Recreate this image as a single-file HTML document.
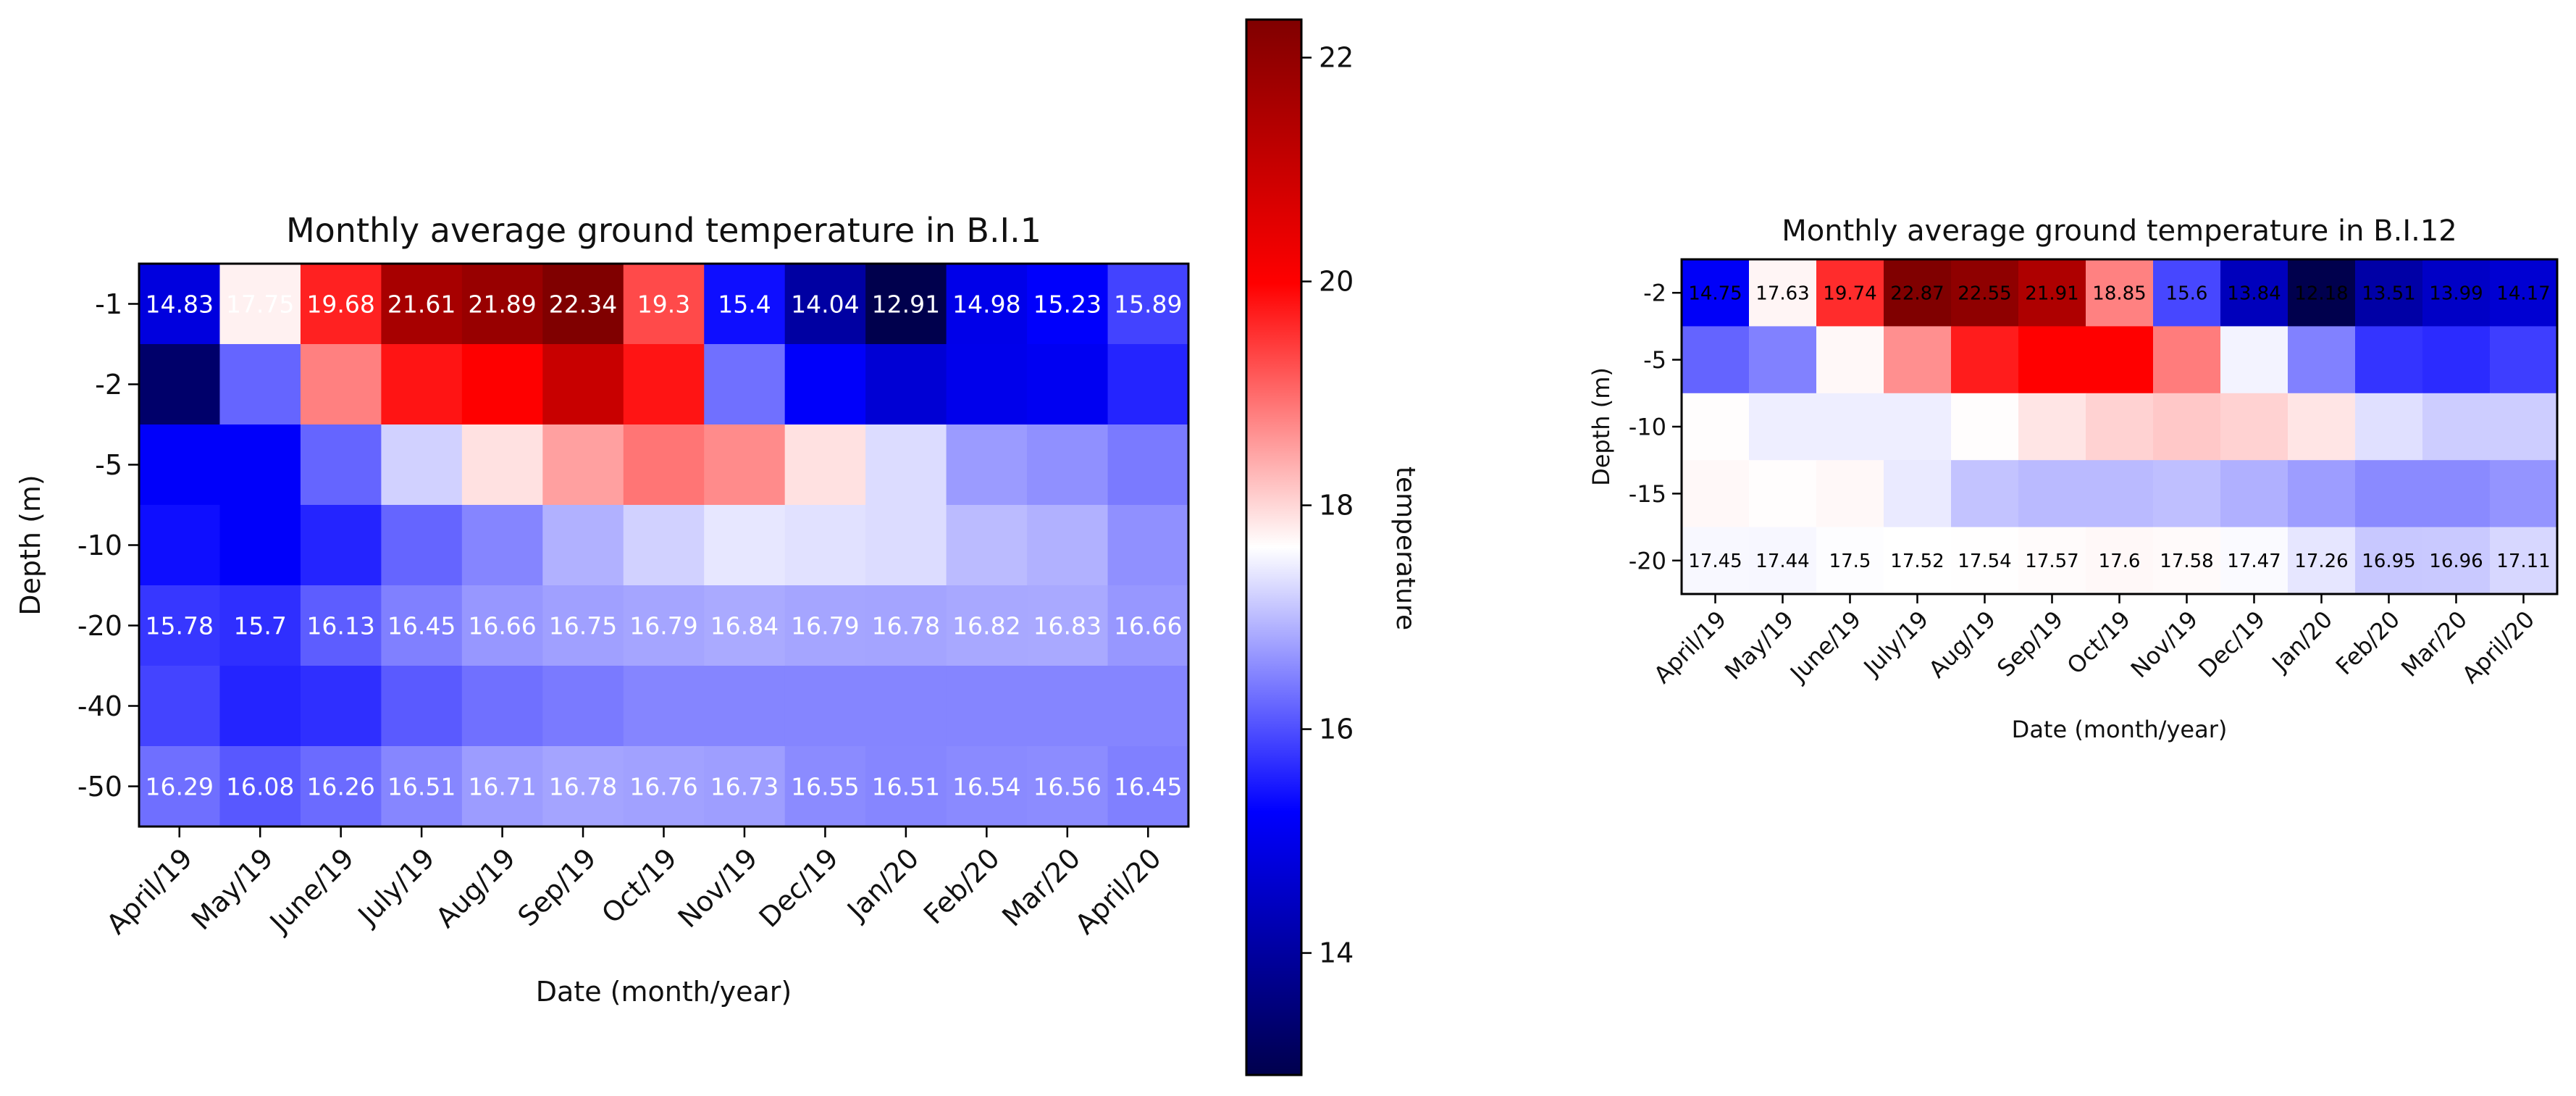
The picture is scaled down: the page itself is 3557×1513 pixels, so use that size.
<!DOCTYPE html>
<html><head><meta charset="utf-8">
<style>
html,body{margin:0;padding:0;background:#fff;}
svg{display:block;font-family:"DejaVu Sans","Liberation Sans",sans-serif;}
</style></head>
<body>
<svg id="fig" width="3557" height="1513" viewBox="0 0 3557 1513" xmlns="http://www.w3.org/2000/svg">
<defs>
<linearGradient id="seis" x1="0" y1="1" x2="0" y2="0">
<stop offset="0" stop-color="rgb(0,0,77)"/>
<stop offset="0.25" stop-color="rgb(0,0,255)"/>
<stop offset="0.5" stop-color="rgb(255,255,255)"/>
<stop offset="0.75" stop-color="rgb(255,0,0)"/>
<stop offset="1" stop-color="rgb(128,0,0)"/>
</linearGradient>
</defs>
<g id="left"></g>
<g id="right"></g>
<g id="cbar"></g>
</svg>
<script>
const months = ["April/19","May/19","June/19","July/19","Aug/19","Sep/19","Oct/19","Nov/19","Dec/19","Jan/20","Feb/20","Mar/20","April/20"];
const depthsA = ["-1","-2","-5","-10","-20","-40","-50"];
const rowA1 = [14.83,17.75,19.68,21.61,21.89,22.34,19.3,15.4,14.04,12.91,14.98,15.23,15.89];
const rowA2 = [13.3,16.2,18.8,19.8,20.0,21.0,19.8,16.3,15.2,14.7,15.0,15.1,15.6];
const rowA5 = [15.2,15.2,16.2,17.2,17.9,18.5,18.9,18.7,17.9,17.3,16.7,16.6,16.4];
const rowA10 = [15.4,15.2,15.6,16.2,16.5,16.9,17.2,17.4,17.35,17.3,17.0,16.9,16.6];
const rowA20 = [15.78,15.7,16.13,16.45,16.66,16.75,16.79,16.84,16.79,16.78,16.82,16.83,16.66];
const rowA40 = [15.9,15.6,15.7,16.1,16.3,16.4,16.5,16.5,16.5,16.5,16.5,16.5,16.5];
const rowA50 = [16.29,16.08,16.26,16.51,16.71,16.78,16.76,16.73,16.55,16.51,16.54,16.56,16.45];
const labeledA = [true,false,false,false,true,false,true];
const depthsB = ["-2","-5","-10","-15","-20"];
const rowB2 = [14.75,17.63,19.74,22.87,22.55,21.91,18.85,15.6,13.84,12.18,13.51,13.99,14.17];
const rowB5 = [15.9,16.2,17.6,18.7,19.9,20.2,20.2,18.9,17.4,16.2,15.4,15.3,15.5];
const rowB10 = [17.55,17.35,17.35,17.35,17.55,17.8,18.0,18.1,18.0,17.8,17.2,17.0,17.0];
const rowB15 = [17.6,17.55,17.6,17.3,16.9,16.8,16.8,16.85,16.7,16.5,16.3,16.3,16.4];
const rowB20 = [17.45,17.44,17.5,17.52,17.54,17.57,17.6,17.58,17.47,17.26,16.95,16.96,17.11];
const labeledB = [true,false,false,false,true];
const cbarTicks = [14,16,18,20,22];

const NS="http://www.w3.org/2000/svg";
function mk(tag,attrs,parent,text){const e=document.createElementNS(NS,tag);for(const k in attrs)e.setAttribute(k,attrs[k]);if(text!==undefined)e.textContent=text;parent.appendChild(e);return e;}
function seismic(t){t=Math.max(0,Math.min(1,t));let r,g,b;
 if(t<0.25){const u=t/0.25;r=0;g=0;b=77+178*u;}
 else if(t<0.5){const u=(t-0.25)/0.25;r=255*u;g=255*u;b=255;}
 else if(t<0.75){const u=(t-0.5)/0.25;r=255;g=255*(1-u);b=255*(1-u);}
 else {const u=(t-0.75)/0.25;r=255-127*u;g=0;b=0;}
 return `rgb(${Math.round(r)},${Math.round(g)},${Math.round(b)})`;}

function heatmap(g,cfg){
 const {rows,ylab,labeled,x0,x1,y0,y1,vmin,vmax,title,fs,vfs,vcol,titleY,tfs,xlabY,ylabX,tickOff,tickLen} = cfg;
 const nc=months.length,nr=rows.length,cw=(x1-x0)/nc,ch=(y1-y0)/nr;
 const xs=i=>x0+i*cw, ys=j=>y0+j*ch;
 const t=mk('text',{x:(x0+x1)/2,y:titleY,'text-anchor':'middle','font-size':tfs,fill:'#111'},g,title);
 
 
 rows.forEach((row,j)=>row.forEach((v,i)=>{
  const r=mk('rect',{x:xs(i),y:ys(j),width:cw+0.6,height:ch+0.6,fill:seismic((v-vmin)/(vmax-vmin))},g);
  
  
  if(labeled[j]){
   const tx=mk('text',{x:xs(i)+cw/2,y:ys(j)+ch/2+vfs*0.36,'text-anchor':'middle','font-size':vfs,fill:vcol},g,String(v));
   
   
  }
 }));
 const fr=mk('rect',{x:x0,y:y0,width:x1-x0,height:y1-y0,fill:'none',stroke:'#000','stroke-width':3},g);
 
 
 ylab.forEach((l,j)=>{const y=ys(j)+ch/2;
  mk('line',{x1:x0-tickLen,y1:y,x2:x0,y2:y,stroke:'#000','stroke-width':2.5},g);
  const tx=mk('text',{x:x0-tickLen-8,y:y+fs*0.36,'text-anchor':'end','font-size':fs,fill:'#111'},g,l);
  
  });
 months.forEach((m,i)=>{const x=xs(i)+cw/2;
  mk('line',{x1:x,y1:y1,x2:x,y2:y1+tickLen,stroke:'#000','stroke-width':2.5},g);
  const ty=y1+tickOff;
  const tx=mk('text',{x:x,y:ty+fs*0.75,'text-anchor':'end','font-size':fs,fill:'#111',transform:`rotate(-45 ${x} ${ty})`},g,m);
  
  });
 const xl=mk('text',{x:(x0+x1)/2,y:xlabY,'text-anchor':'middle','font-size':fs,fill:'#111'},g,'Date (month/year)');
 
 
 const cy=(y0+y1)/2;
 const yl=mk('text',{x:ylabX,y:cy,'text-anchor':'middle','font-size':fs,fill:'#111',transform:`rotate(-90 ${ylabX} ${cy})`},g,'Depth (m)');
 
 
}

heatmap(document.getElementById('left'),{rows:[rowA1,rowA2,rowA5,rowA10,rowA20,rowA40,rowA50],ylab:depthsA,labeled:labeledA,
 x0:192,x1:1641,y0:364,y1:1141,vmin:12.91,vmax:22.34,title:'Monthly average ground temperature in B.I.1',fs:38,vfs:33,vcol:'#fff',titleY:334,tfs:46,xlabY:1382,ylabX:55,tickOff:26,tickLen:15});
heatmap(document.getElementById('right'),{rows:[rowB2,rowB5,rowB10,rowB15,rowB20],ylab:depthsB,labeled:labeledB,
 x0:2322,x1:3531,y0:358,y1:820,vmin:12.18,vmax:22.87,title:'Monthly average ground temperature in B.I.12',fs:32,vfs:26,vcol:'#000',titleY:332,tfs:40,xlabY:1018,ylabX:2222,tickOff:20,tickLen:13});

// colorbar
const cb=document.getElementById('cbar');
const cbMin=12.91,cbMax=22.34,cbTop=27,cbBot=1484,cbL=1721,cbR=1797;
const cy=v=>cbBot-(v-cbMin)/(cbMax-cbMin)*(cbBot-cbTop);
const gr=mk('rect',{x:cbL,y:cbTop,width:cbR-cbL,height:cbBot-cbTop,fill:'url(#seis)',stroke:'#000','stroke-width':3},cb);


cbarTicks.forEach(v=>{const y=cy(v);
 mk('line',{x1:cbR,y1:y,x2:cbR+14,y2:y,stroke:'#000','stroke-width':2.5},cb);
 const tx=mk('text',{x:cbR+24,y:y+13,'font-size':38,fill:'#111'},cb,String(v));
 
 });
const cl=mk('text',{x:1929,y:757,'text-anchor':'middle','font-size':36,fill:'#111',transform:'rotate(90 1929 757)'},cb,'temperature');


</script>
</body></html>
